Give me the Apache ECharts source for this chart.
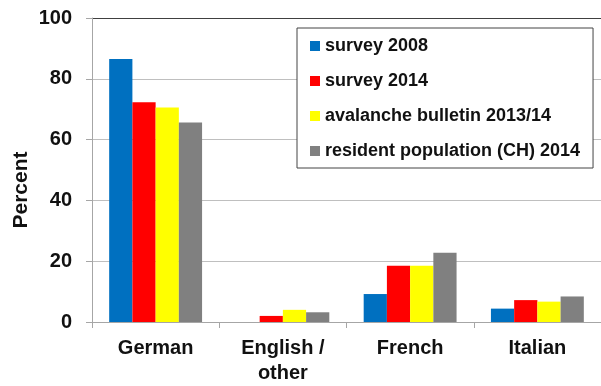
<!DOCTYPE html>
<html>
<head>
<meta charset="utf-8">
<script src="https://cdn.jsdelivr.net/npm/echarts@6/dist/echarts.min.js"></script>
<style>
  html, body { margin: 0; padding: 0; background: #fff; }
  #chart { width: 601px; height: 386px; }
</style>
</head>
<body>
<div id="chart"></div>
<script>
// Language shares, in percent
const categories = ['German', 'English /\nother', 'French', 'Italian'];
const seriesNames = ['survey 2008', 'survey 2014', 'avalanche bulletin 2013/14', 'resident population (CH) 2014'];
const survey2008 = [86.5, 0, 9.2, 4.4];
const survey2014 = [72.3, 2.0, 18.5, 7.2];
const bulletin2013_14 = [70.6, 4.0, 18.5, 6.7];
const resident2014 = [65.6, 3.2, 22.8, 8.4];
const yTicks = [0, 20, 40, 60, 80, 100];

const colors = ['#0070C0', '#FF0000', '#FFFF00', '#808080'];
const values = [survey2008, survey2014, bulletin2013_14, resident2014];
const font = '"Liberation Sans", Arial, sans-serif';

const chart = echarts.init(document.getElementById('chart'), null, { renderer: 'canvas' });
chart.setOption({
  animation: false,
  backgroundColor: '#ffffff',
  grid: { left: 92, top: 18, width: 513, height: 310, containLabel: false },
  legend: {
    orient: 'vertical',
    left: 297,
    top: 28,
    padding: [9, 13, 8, 13],
    itemGap: 17,
    itemWidth: 10,
    itemHeight: 10,
    icon: 'rect',
    backgroundColor: '#ffffff',
    borderColor: '#444444',
    borderWidth: 1,
    textStyle: { fontFamily: font, fontWeight: 'bold', fontSize: 18, lineHeight: 18, color: '#111' },
    data: seriesNames
  },
  xAxis: {
    type: 'category',
    data: categories,
    boundaryGap: true,
    axisLine: { lineStyle: { color: '#a6a6a6', width: 1 } },
    axisTick: { show: true, alignWithLabel: false, length: 6, lineStyle: { color: '#a6a6a6' } },
    axisLabel: { fontFamily: font, fontWeight: 'bold', fontSize: 20, lineHeight: 25, color: '#111', margin: 14, interval: 0 }
  },
  yAxis: {
    type: 'value',
    min: yTicks[0],
    max: yTicks[yTicks.length - 1],
    interval: 20,
    axisLine: { show: true, lineStyle: { color: '#a6a6a6', width: 1 } },
    axisTick: { show: true, length: 6, lineStyle: { color: '#a6a6a6' } },
    axisLabel: { fontFamily: font, fontWeight: 'bold', fontSize: 20, color: '#111', margin: 20 },
    splitLine: { show: true, lineStyle: { color: ['#bfbfbf', '#bfbfbf', '#bfbfbf', '#bfbfbf', '#bfbfbf', '#404040'], width: 1 } }
  },
  graphic: [{
    type: 'text',
    x: 21,
    y: 190,
    rotation: Math.PI / 2,
    style: {
      text: 'Percent',
      fontFamily: font,
      fontWeight: 'bold',
      fontSize: 21,
      fill: '#111',
      align: 'center',
      verticalAlign: 'middle'
    }
  }],
  series: seriesNames.map((name, i) => ({
    name: name,
    type: 'bar',
    data: values[i],
    barGap: '0%',
    barCategoryGap: '27%',
    itemStyle: { color: colors[i] }
  }))
});
</script>
</body>
</html>
